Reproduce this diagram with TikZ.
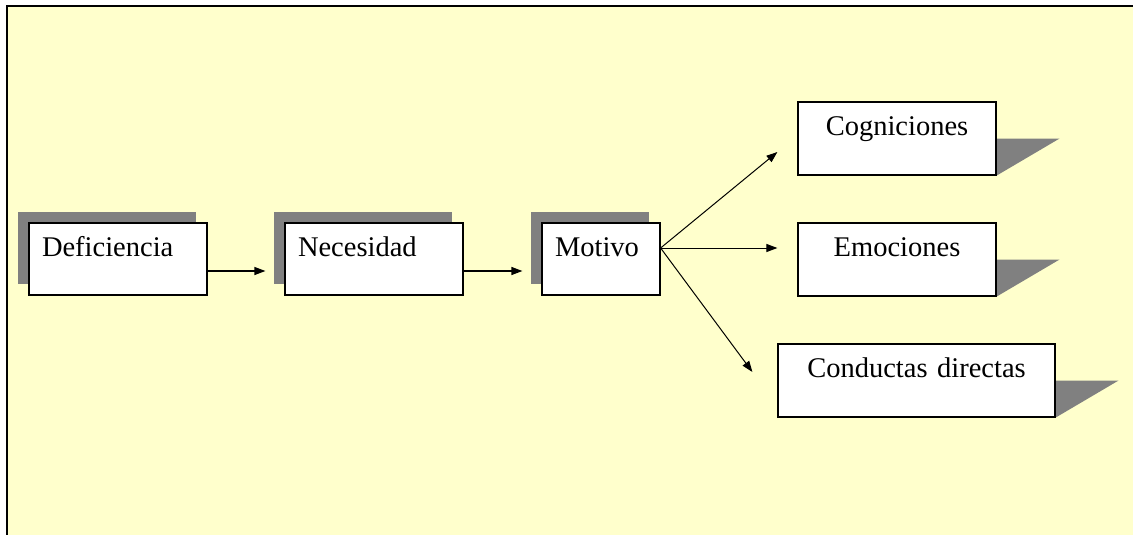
\documentclass[tikz,border=0pt]{standalone}
\usepackage{fontspec}
\setmainfont{Liberation Serif}
\usetikzlibrary{arrows.meta,shadows,backgrounds}
\definecolor{bgyellow}{HTML}{FFFFCC}
\definecolor{shadowgray}{HTML}{808080}
\begin{document}
\begin{tikzpicture}[x=1pt,y=-1pt,
  every node/.style={font=\fontsize{28.5}{32}\selectfont},
  boxbase/.style={draw=black, fill=white, line width=1.2pt, inner ysep=0pt,
    text height=33pt, text depth=39pt},
  lbox/.style={boxbase, align=left, inner xsep=13pt,
    general shadow={shadow xshift=-11pt, shadow yshift=11pt, fill=shadowgray}},
  rbox/.style={boxbase, align=center, inner xsep=0pt, text depth=40pt},
  arr/.style={line width=1.2pt, -{Triangle[length=11pt,width=8pt]}},
  darr/.style={line width=1pt, -{Triangle[length=11pt,width=8pt]}},
  tri/.style={fill=shadowgray}
]
\useasboundingbox (0,0) rectangle (1133,535);

\node[lbox, text width=152pt] (def) at (118,259) {Deficiencia};
\node[lbox, text width=152pt] (nec) at (374,259) {Necesidad};
\node[lbox, text width=92pt] (mot) at (601,259) {Motivo};

\node[rbox, text width=198pt] (cog) at (897,138.5) {Cogniciones};
\node[rbox, text width=198pt] (emo) at (897,259.5) {Emociones};
\node[rbox, text width=277pt] (con) at (916.5,380.5) {Conductas directas};

\begin{scope}[on background layer]
  \fill[bgyellow] (7,6) rectangle (1133,535);
  \fill[tri] (cog.east) -- ++(63,0) -- (cog.south east) -- cycle;
  \fill[tri] (emo.east) -- ++(63,0) -- (emo.south east) -- cycle;
  \fill[tri] (con.east) -- ++(63,0) -- (con.south east) -- cycle;
\end{scope}
\draw[line width=1.6pt] (7,535) -- (7,6) -- (1133,6);

\draw[arr] ([yshift=-12pt]def.east) -- ([xshift=-19pt,yshift=-12pt]nec.west);
\draw[arr] ([yshift=-12pt]nec.east) -- ([xshift=-19pt,yshift=-12pt]mot.west);
\draw[darr] ([yshift=11pt]mot.east) -- ([xshift=-20pt,yshift=-13.5pt]cog.west);
\draw[darr] ([yshift=11pt]mot.east) -- ([xshift=-20pt,yshift=11.5pt]emo.west);
\draw[darr] ([yshift=11pt]mot.east) -- ([xshift=-25pt,yshift=8.5pt]con.west);
\end{tikzpicture}
\end{document}
